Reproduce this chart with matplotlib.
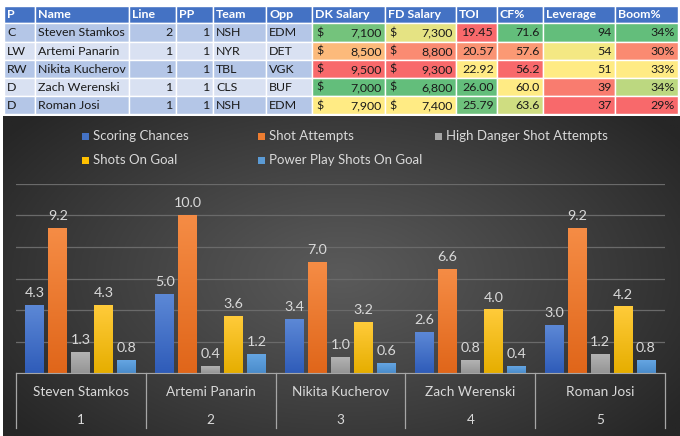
import numpy as np
import matplotlib
matplotlib.use("Agg")
import matplotlib.pyplot as plt
from matplotlib.patches import Rectangle
from matplotlib.colors import LinearSegmentedColormap, to_rgb

plt.rcParams['font.family'] = ['Lato', 'DejaVu Sans']

# ---- table data ----
headers = ['P', 'Name', 'Line', 'PP', 'Team', 'Opp', 'DK Salary', 'FD Salary',
           'TOI', 'CF%', 'Leverage', 'Boom%']
pos = ['C', 'LW', 'RW', 'D', 'D']
names = ['Steven Stamkos', 'Artemi Panarin', 'Nikita Kucherov', 'Zach Werenski', 'Roman Josi']
line_no = [2, 1, 1, 1, 1]
pp_unit = [1, 1, 1, 1, 1]
team = ['NSH', 'NYR', 'TBL', 'CLS', 'NSH']
opp = ['EDM', 'DET', 'VGK', 'BUF', 'EDM']
dk_salary = [7100, 8500, 9500, 7000, 7900]
fd_salary = [7300, 8800, 9300, 6800, 7400]
toi = [19.45, 20.57, 22.92, 26.00, 25.79]
cf_pct = [71.6, 57.6, 56.2, 60.0, 63.6]
leverage = [94, 54, 51, 39, 37]
boom = [0.344, 0.30, 0.33, 0.336, 0.29]

# ---- chart data ----
players = names
ranks = ['1', '2', '3', '4', '5']
series_names = ['Scoring Chances', 'Shot Attempts', 'High Danger Shot Attempts',
                'Shots On Goal', 'Power Play Shots On Goal']
scoring = [4.3, 5.0, 3.4, 2.6, 3.0]
shot_att = [9.2, 10.0, 7.0, 6.6, 9.2]
hd_att = [1.3, 0.4, 1.0, 0.8, 1.2]
sog = [4.3, 3.6, 3.2, 4.0, 4.2]
pp_sog = [0.8, 1.2, 0.6, 0.4, 0.8]

W, H = 680, 436
fig = plt.figure(figsize=(W / 100, H / 100), dpi=100)
fig.patch.set_facecolor('white')

# excel-like 3 colour scale (red - yellow - green, midpoint = median)
RED, YEL, GRN = np.array(to_rgb('#F8696B')), np.array(to_rgb('#FFEB84')), np.array(to_rgb('#63BE7B'))


def color_scale(vals, low_good=False):
    v = np.array(vals, float)
    lo, mid, hi = v.min(), np.percentile(v, 50), v.max()
    c_lo, c_hi = (GRN, RED) if low_good else (RED, GRN)
    out = []
    for x in v:
        if x <= mid:
            t = 0 if mid == lo else (x - lo) / (mid - lo)
            out.append(c_lo + (YEL - c_lo) * t)
        else:
            t = (x - mid) / (hi - mid)
            out.append(YEL + (c_hi - YEL) * t)
    return out


# ---- chart background (radial gradient) ----
bg_top = 116
bg = fig.add_axes([3 / W, 0, (W - 3) / W, (H - bg_top) / H])
yy, xx = np.mgrid[0:1:200j, 0:1:300j]
r = np.sqrt(((xx - 0.5) / 0.62) ** 2 + ((yy - 0.5) / 0.75) ** 2)
r = np.clip(r, 0, 1)
c_in, c_out = np.array(to_rgb('#5A5A5A')), np.array(to_rgb('#262626'))
img = c_in[None, None, :] + (c_out - c_in)[None, None, :] * (r[..., None] ** 1.1)
bg.imshow(img, aspect='auto', extent=[0, 1, 0, 1])
bg.set_axis_off()

# ---- table ----
tab = fig.add_axes([0, 0, 1, 1])
tab.set_xlim(0, W)
tab.set_ylim(H, 0)
tab.set_axis_off()
tab.patch.set_alpha(0)

col_edges = [4, 35, 129, 176, 213, 266, 312, 385, 456, 497, 543, 615, 678]
row_edges = [6, 23, 42, 60, 78, 96, 114]
band = ['#B4C6E7', '#D9E1F2']

dk_col = color_scale(dk_salary, low_good=True)
fd_col = color_scale(fd_salary, low_good=True)
toi_col = color_scale(toi)
cf_col = color_scale(cf_pct)
lev_col = color_scale(leverage)
boom_col = color_scale(boom)

fs_tab = 8.9
for j, h in enumerate(headers):
    x0, x1 = col_edges[j], col_edges[j + 1]
    y0, y1 = row_edges[0], row_edges[1]
    tab.add_patch(Rectangle((x0, y0), x1 - x0, y1 - y0, facecolor='#4472C4',
                            edgecolor='white', lw=1))
    tab.text(x0 + 3, (y0 + y1) / 2 + 0.5, h, color='white', fontweight='bold',
             fontsize=fs_tab, va='center', ha='left')

for i in range(len(names)):
    y0, y1 = row_edges[i + 1], row_edges[i + 2]
    yc = (y0 + y1) / 2 + 0.5
    cells = [
        (pos[i], 'l', band[i % 2]),
        (names[i], 'l', band[i % 2]),
        (str(line_no[i]), 'r', band[i % 2]),
        (str(pp_unit[i]), 'r', band[i % 2]),
        (team[i], 'l', band[i % 2]),
        (opp[i], 'l', band[i % 2]),
        (f'{dk_salary[i]:,}', '$', dk_col[i]),
        (f'{fd_salary[i]:,}', '$', fd_col[i]),
        (f'{toi[i]:.2f}', 'r', toi_col[i]),
        (f'{cf_pct[i]:.1f}', 'r', cf_col[i]),
        (str(leverage[i]), 'r', lev_col[i]),
        (f'{boom[i] * 100:.0f}%', 'r', boom_col[i]),
    ]
    for j, (txt, al, fc) in enumerate(cells):
        x0, x1 = col_edges[j], col_edges[j + 1]
        tab.add_patch(Rectangle((x0, y0), x1 - x0, y1 - y0, facecolor=fc,
                                edgecolor='white', lw=1))
        if al == 'l':
            tab.text(x0 + 3, yc, txt, fontsize=fs_tab, va='center', ha='left', color='#1a1a1a')
        else:
            tab.text(x1 - 3, yc, txt, fontsize=fs_tab, va='center', ha='right', color='#1a1a1a')
            if al == '$':
                tab.text(x0 + 4, yc, '$', fontsize=fs_tab, va='center', ha='left', color='#1a1a1a')

# ---- bar chart ----
base_px, top_px = 373, 184
left_px, right_px = 16, 665
ax = fig.add_axes([left_px / W, (H - base_px) / H, (right_px - left_px) / W,
                   (base_px - top_px) / H])
ax.patch.set_alpha(0)

series = [scoring, shot_att, hd_att, sog, pp_sog]
grads = [('#2F5CB9', '#5C88D6'), ('#E0661A', '#F58C45'), ('#959595', '#B3B3B3'),
         ('#E6AE00', '#FFCB3A'), ('#4A8CCB', '#65A5E2')]
swatch = ['#4472C4', '#ED7D31', '#A5A5A5', '#FFC000', '#5B9BD5']

x = np.arange(len(players))
step, bw = 0.177, 0.146
txt_col = '#D9D9D9'
fs_chart = 9.8
for k, vals in enumerate(series):
    bars = ax.bar(x + (k - 2) * step, vals, width=bw, color='none', zorder=3)
    cmap = LinearSegmentedColormap.from_list('g%d' % k, list(grads[k]))
    for b, v in zip(bars, vals):
        bx = b.get_x()
        ax.imshow(np.linspace(0, 1, 64).reshape(-1, 1), extent=[bx, bx + bw, 0, v],
                  origin='lower', aspect='auto', cmap=cmap, zorder=3)
        ax.annotate(f'{v:.1f}', (bx + bw / 2, v), xytext=(0, 6), textcoords='offset points',
                    ha='center', va='baseline', color=txt_col, fontsize=10.3)

ax.set_xlim(-0.5, len(players) - 0.5)
ax.set_ylim(0, 12)
ax.set_yticks(np.arange(0, 13, 2))
ax.yaxis.grid(True, color='#6A6A6A', lw=0.9, zorder=0)
ax.tick_params(left=False, labelleft=False, bottom=False, labelbottom=False)
for s in ['left', 'right', 'top']:
    ax.spines[s].set_visible(False)
ax.spines['bottom'].set_color('#A6A6A6')
ax.spines['bottom'].set_zorder(4)

# multi-level category axis
xt = ax.get_xaxis_transform()
px = 1.0 / (base_px - top_px)
for e in np.arange(-0.5, len(players), 1.0):
    ax.plot([e, e], [0, -(428 - base_px) * px], transform=xt, color='#A6A6A6',
            lw=0.9, clip_on=False)
for i, (p, rk) in enumerate(zip(players, ranks)):
    ax.text(i, -(392 - base_px) * px, p, transform=xt, ha='center', va='center',
            color=txt_col, fontsize=fs_chart)
    ax.text(i, -(420 - base_px) * px, rk, transform=xt, ha='center', va='center',
            color=txt_col, fontsize=fs_chart)

# legend (two rows laid out like the original)
leg = fig.add_axes([0, 0, 1, 1])
leg.set_xlim(0, W)
leg.set_ylim(H, 0)
leg.set_axis_off()
leg.patch.set_alpha(0)
leg_pos = [(82, 136), (258, 136), (435, 136), (82, 160), (258, 160)]
for k, (lx, ly) in enumerate(leg_pos):
    leg.add_patch(Rectangle((lx, ly - 3.5), 7, 7, facecolor=swatch[k], edgecolor='none'))
    leg.text(lx + 11, ly, series_names[k], color=txt_col, fontsize=9.5, va='center', ha='left')

fig.savefig('out.png', dpi=100, facecolor='white')
